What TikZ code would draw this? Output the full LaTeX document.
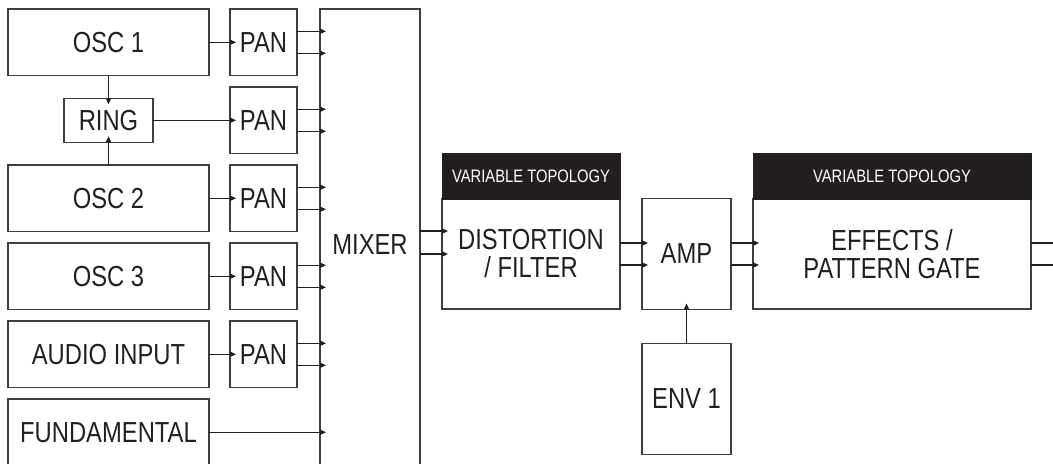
\documentclass[tikz,border=0pt]{standalone}
\usepackage{fontspec}
\setmainfont{Liberation Sans}[FakeStretch=0.82]
\usepackage{tikz}
\usetikzlibrary{arrows.meta,positioning}
\definecolor{synthInk}{RGB}{35,31,32}
\definecolor{synthLine}{RGB}{62,62,62}
\tikzset{
  unit/.style={draw=synthLine, line width=0.75pt, text=synthInk, align=center,
               inner sep=0pt, outer sep=0pt, font=\fontsize{14.5}{14}\selectfont},
  src/.style={unit, minimum width=100.5pt, minimum height=33.25pt},
  panbox/.style={unit, minimum width=33.5pt, minimum height=33.25pt},
  ringbox/.style={unit, minimum width=44.5pt, minimum height=22pt},
  mixbox/.style={unit, minimum width=50pt, minimum height=235.5pt},
  stagebox/.style={unit, minimum width=89pt, minimum height=55pt},
  ampbox/.style={unit, minimum width=44.5pt, minimum height=55.5pt},
  fxbox/.style={unit, minimum width=139pt, minimum height=55pt},
  topo/.style={draw=synthInk, fill=synthInk, text=white, inner sep=0pt, outer sep=0pt,
               minimum height=23pt, font=\fontsize{9}{10}\selectfont},
  sig/.style={-{Triangle[length=3pt, width=2.6pt]}, draw=synthInk, line width=0.7pt,
              shorten >=-3pt},
}

\begin{document}
\begin{tikzpicture}[node distance=5.75pt and 10.5pt]
\clip (0,0) rectangle (526.5pt,-231.5pt);

% sources and pans
\node[src, anchor=north west] (osc1) at (4pt,-4.5pt) {OSC 1};
\node[panbox, right=of osc1] (pan1) {PAN};
\node[panbox, below=of pan1] (pan2) {PAN};
\node[panbox, below=of pan2] (pan3) {PAN};
\node[panbox, below=of pan3] (pan4) {PAN};
\node[panbox, below=of pan4] (pan5) {PAN};
\node[src, left=of pan3] (osc2) {OSC 2};
\node[src, left=of pan4] (osc3) {OSC 3};
\node[src, left=of pan5] (audio) {AUDIO INPUT};
\node[src, below=of audio] (fund) {FUNDAMENTAL};
\node[ringbox] (ring) at (osc1 |- pan2) {RING};

% mixer
\node[mixbox, anchor=north west] (mix) at ([xshift=11.5pt]pan1.north east) {MIXER};

% signal chain
\node[stagebox, right=11pt of mix, yshift=-4.75pt] (dist) {DISTORTION\\/ FILTER};
\node[topo, above=0pt of dist, minimum width=89pt] (disthead) {VARIABLE TOPOLOGY};
\node[ampbox, right=11pt of dist] (amp) {AMP};
\node[fxbox, right=11pt of amp] (fx) {EFFECTS /\\PATTERN GATE};
\node[topo, above=0pt of fx, minimum width=139pt] (fxhead) {VARIABLE TOPOLOGY};
\node[ampbox, below=17pt of amp] (env) {ENV 1};

\coordinate (outA) at ([xshift=11pt, yshift=5.5pt]fx.east);
\coordinate (outB) at ([xshift=11pt, yshift=-5.5pt]fx.east);

\draw[sig] (osc1) -- (pan1);
\draw[sig] (osc1) -- (ring);
\draw[sig] (osc2) -- (ring);
\draw[sig] (ring) -- (pan2);
\draw[sig] (osc2) -- (pan3);
\draw[sig] (osc3) -- (pan4);
\draw[sig] (audio) -- (pan5);
\foreach \p in {pan1,pan2,pan3,pan4,pan5} {
  \draw[sig] ([yshift=5.5pt]\p.east) -- ([yshift=5.5pt]\p.east -| mix.west);
  \draw[sig] ([yshift=-5.5pt]\p.east) -- ([yshift=-5.5pt]\p.east -| mix.west);
}
\draw[sig] (fund) -- (fund -| mix.west);
\draw[sig] ([yshift=11.5pt]dist.west -| mix.east) -- ([yshift=11.5pt]dist.west);
\draw[sig] (dist.west -| mix.east) -- (dist.west);
\foreach \s in {5.5,-5.5} {
  \draw[sig] ([yshift=\s pt]amp.west -| dist.east) -- ([yshift=\s pt]amp.west);
  \draw[sig] ([yshift=\s pt]amp.east) -- ([yshift=\s pt]amp.east -| fx.west);
}
\draw[sig] (outA -| fx.east) -- (outA);
\draw[sig] (outB -| fx.east) -- (outB);
\draw[sig] (env) -- (amp);
\end{tikzpicture}
\end{document}
